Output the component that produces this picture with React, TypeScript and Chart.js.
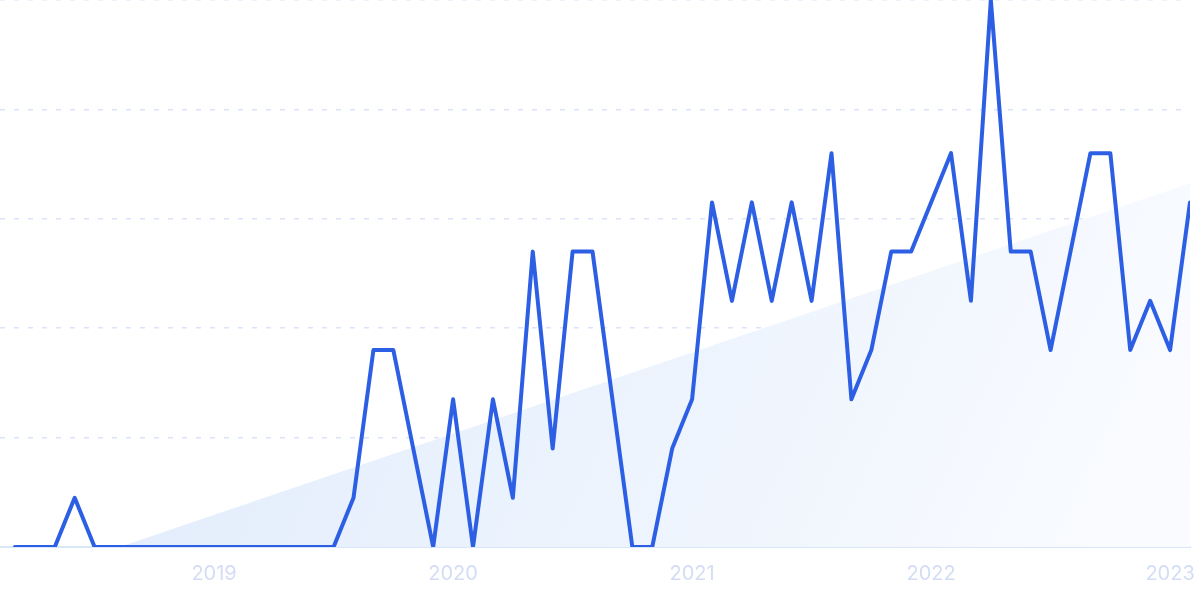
import React, { useEffect, useRef } from "react";
import { Chart, registerables } from "chart.js";

Chart.register(...registerables);

const months: string[] = [
  "2018-03","2018-04","2018-05","2018-06","2018-07","2018-08","2018-09","2018-10","2018-11","2018-12",
  "2019-01","2019-02","2019-03","2019-04","2019-05","2019-06","2019-07","2019-08","2019-09","2019-10","2019-11","2019-12",
  "2020-01","2020-02","2020-03","2020-04","2020-05","2020-06","2020-07","2020-08","2020-09","2020-10","2020-11","2020-12",
  "2021-01","2021-02","2021-03","2021-04","2021-05","2021-06","2021-07","2021-08","2021-09","2021-10","2021-11","2021-12",
  "2022-01","2022-02","2022-03","2022-04","2022-05","2022-06","2022-07","2022-08","2022-09","2022-10","2022-11","2022-12",
  "2023-01","2023-02",
];

const interest: number[] = [
  0, 0, 0, 9, 0, 0, 0, 0, 0, 0,
  0, 0, 0, 0, 0, 0, 0, 9, 36, 36, 18, 0,
  27, 0, 27, 9, 54, 18, 54, 54, 27, 0, 0, 18,
  27, 63, 45, 63, 45, 63, 45, 72, 27, 36, 54, 54,
  63, 72, 45, 100, 54, 54, 36, 54, 72, 72, 36, 45,
  36, 63,
];

// trend line endpoints (first month, last month)
const trendStart = -6.5;
const trendEnd = 66.5;

const yearTicks: string[] = ["2019", "2020", "2021", "2022", "2023"];
const yearTickMonths: string[] = ["2019-01", "2020-01", "2021-01", "2022-01", "2023-01"];

export default function App() {
  const ref = useRef<HTMLCanvasElement | null>(null);

  useEffect(() => {
    document.body.style.margin = "0";
    const canvas = ref.current;
    if (!canvas) return;

    const lineData = interest.map((v, i) => ({ x: i, y: v }));
    const trendData = [
      { x: 0, y: trendStart },
      { x: months.length - 1, y: trendEnd },
    ];
    const tickIdx = yearTickMonths.map((m) => months.indexOf(m));

    const chart = new Chart(canvas, {
      type: "line",
      data: {
        datasets: [
          {
            data: lineData,
            borderColor: "#2c5fe3",
            borderWidth: 4,
            pointRadius: 0,
            tension: 0,
            borderJoinStyle: "round",
            borderCapStyle: "round",
            fill: false,
            order: 0,
          },
          {
            data: trendData,
            borderWidth: 0,
            borderColor: "rgba(0,0,0,0)",
            pointRadius: 0,
            fill: "start",
            order: 1,
            backgroundColor: (ctx: any) => {
              const area = ctx.chart.chartArea;
              if (!area) return "rgba(226,236,251,0.8)";
              const g = ctx.chart.ctx.createLinearGradient(area.left, area.top, area.right, area.bottom);
              g.addColorStop(0, "#dde9fa");
              g.addColorStop(0.5, "#eaf2fd");
              g.addColorStop(1, "#fbfcff");
              return g;
            },
          },
        ],
      },
      options: {
        animation: false,
        responsive: true,
        maintainAspectRatio: false,
        layout: { padding: { left: 0, right: 10, top: 0, bottom: -2 } },
        plugins: { legend: { display: false }, tooltip: { enabled: false } },
        scales: {
          x: {
            type: "linear",
            min: -0.75,
            max: months.length - 1,
            grid: { display: false, drawTicks: false },
            border: { display: true, color: "#d9e7fb", width: 2 },
            afterBuildTicks: (axis: any) => {
              axis.ticks = tickIdx.map((v) => ({ value: v }));
            },
            afterFit: (axis: any) => {
              axis.paddingRight = 0;
              axis.paddingLeft = 0;
            },
            ticks: {
              autoSkip: false,
              maxRotation: 0,
              padding: 15,
              color: "#d3ddf5",
              font: { family: "Inter", size: 20 },
              callback: (value: any) => {
                const k = tickIdx.indexOf(Number(value));
                return k >= 0 ? yearTicks[k] : "";
              },
            },
          },
          y: {
            min: 0,
            max: 100,
            ticks: { display: false, stepSize: 20 },
            grid: { color: "#d9e4fb", lineWidth: 1.5, drawTicks: false },
            border: { display: false, dash: [5, 9] },
          },
        },
      },
    });
    return () => chart.destroy();
  }, []);

  return (
    <div style={{ width: 1200, height: 599, position: "relative" }}>
      <canvas ref={ref} />
    </div>
  );
}
